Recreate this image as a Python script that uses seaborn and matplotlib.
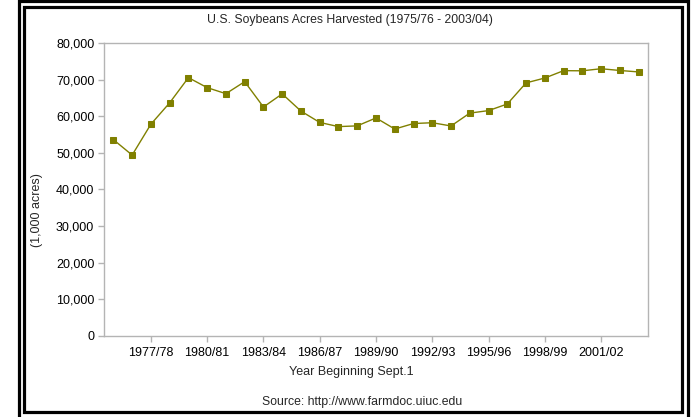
import matplotlib
matplotlib.use("Agg")
import matplotlib.pyplot as plt
from matplotlib.patches import Rectangle
import numpy as np
import pandas as pd
import seaborn as sns

# Soybean acres harvested, 1,000 acres
years = list(range(1975, 2004))
acres = [53617, 49401, 57830, 63663, 70541, 67812, 66163, 69442, 62525, 66113,
         61405, 58312, 57172, 57373, 59538, 56512, 58011, 58233, 57347, 60859,
         61544, 63349, 69110, 70441, 72446, 72408, 72975, 72497, 72100]
tick_years = [1977, 1980, 1983, 1986, 1989, 1992, 1995, 1998, 2001]
y_ticks = [0, 10000, 20000, 30000, 40000, 50000, 60000, 70000, 80000]

df = pd.DataFrame({"idx": np.arange(len(years)), "acres": acres})

sns.set_style("white")
plt.rcParams['font.family'] = ['Liberation Sans', 'DejaVu Sans']
plt.rcParams['font.size'] = 9

W, H = 691, 417
fig = plt.figure(figsize=(W / 100, H / 100), dpi=100)
ax = fig.add_axes([104 / W, 81 / H, 544 / W, 293 / H])

sns.lineplot(data=df, x="idx", y="acres", ax=ax, color="#808000",
             linewidth=1.0, marker="s", markersize=5,
             markeredgecolor="#808000", markerfacecolor="#808000")

ax.set_xlim(-0.5, len(years) - 0.5)
ax.set_ylim(0, 80000)
ax.set_yticks(y_ticks)
ax.set_yticklabels([f"{v:,}" for v in y_ticks])
ax.set_xticks([years.index(y) for y in tick_years])
ax.set_xticklabels([f"{y}/{str(y + 1)[-2:]}" for y in tick_years])

for s in ax.spines.values():
    s.set_color("#b4b4b4")
    s.set_linewidth(1.0)
ax.tick_params(axis="both", which="both", length=4, width=1, color="#b4b4b4",
               labelsize=9, labelcolor="black", direction="out", pad=3)
ax.tick_params(axis="x", bottom=True, pad=4)
ax.tick_params(axis="y", left=True)

ax.set_xlabel("Year Beginning Sept.1", fontsize=9, va="center")
ax.xaxis.set_label_coords((351 - 104) / 544, -(372 - 336) / 293)
ax.set_ylabel("(1,000 acres)", fontsize=9, va="center")
ax.yaxis.set_label_coords((37 - 104) / 544, (336 - 210) / 293)

fig.text(350 / W, 1 - 20 / H, "U.S. Soybeans Acres Harvested (1975/76 - 2003/04)",
         ha="center", va="center", fontsize=8.8)
fig.text(362 / W, 1 - 402 / H, "Source: http://www.farmdoc.uiuc.edu",
         ha="center", va="center", fontsize=8.8)

# double black frame around the chart
fig.patches.append(Rectangle((18.5 / W, -10 / H), 669 / W, 426 / H,
                             transform=fig.transFigure, fill=False,
                             edgecolor="black", linewidth=2.3))
fig.patches.append(Rectangle((23.5 / W, 1 - 411.5 / H), 658 / W, 405 / H,
                             transform=fig.transFigure, fill=False,
                             edgecolor="black", linewidth=2.3))

fig.savefig("out.png", dpi=100)
